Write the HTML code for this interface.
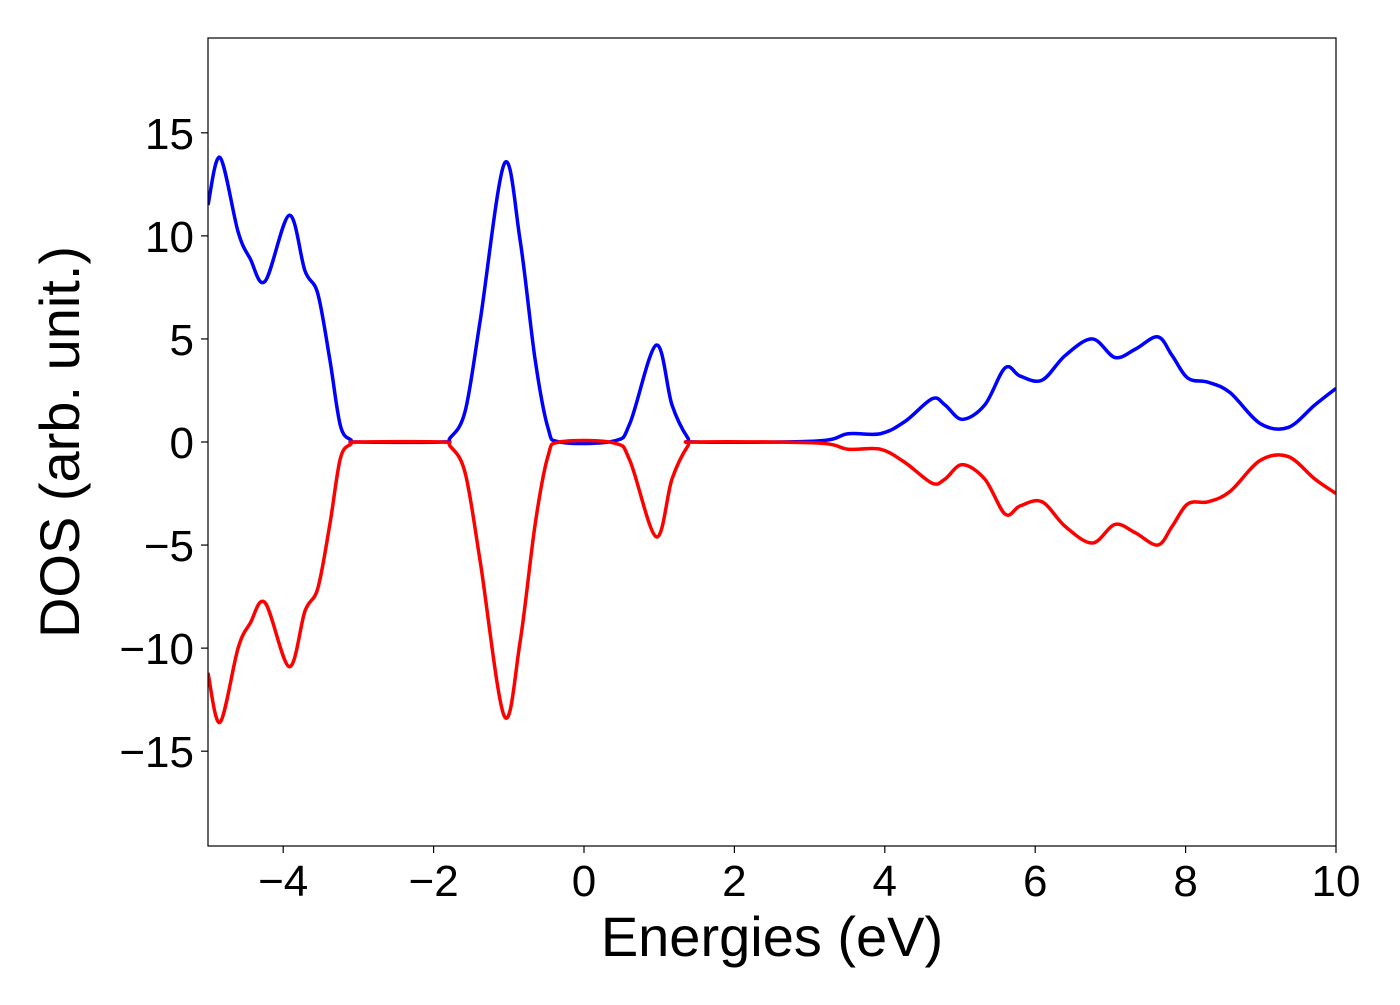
<!DOCTYPE html>
<html><head><meta charset="utf-8"><style>
body{margin:0;background:#fff}
svg text{font-family:"Liberation Sans","DejaVu Sans",sans-serif;fill:#000}
</style></head><body>
<svg id="chart" width="1400" height="1000" xmlns="http://www.w3.org/2000/svg">
<g id="plot"></g>
</svg>
<script>
const energies = [-5,-4.84,-4.6,-4.44,-4.24,-3.92,-3.71,-3.54,-3.38,-3.24,-3.1,-3.0,-1.9,-1.78,-1.58,-1.38,-1.06,-0.85,-0.65,-0.48,-0.32,0.4,0.61,0.96,1.17,1.38,1.5,3.1,3.51,3.94,4.27,4.63,4.8,5.03,5.33,5.6,5.8,6.09,6.4,6.76,7.06,7.33,7.63,7.82,8.03,8.3,8.59,8.99,9.36,9.72,10];
const dosUp = [11.5,13.8,10.2,8.9,7.8,11.0,8.3,7.2,4.0,0.8,0.1,0,0,0.2,1.5,5.9,13.5,9.8,4.0,0.7,0,0.05,0.9,4.7,1.8,0.2,0,0.05,0.4,0.4,1.0,2.1,1.8,1.1,1.8,3.6,3.2,3.0,4.2,5.0,4.1,4.5,5.1,4.2,3.1,2.9,2.4,0.9,0.7,1.8,2.6];
const dosDown = [-11.2,-13.6,-10.0,-8.8,-7.8,-10.9,-8.2,-7.1,-4.0,-0.8,-0.1,0,0,-0.2,-1.5,-5.8,-13.3,-9.7,-4.0,-0.7,0,-0.05,-0.9,-4.6,-1.8,-0.2,0,-0.05,-0.35,-0.35,-1.0,-2.0,-1.8,-1.1,-1.8,-3.5,-3.1,-2.9,-4.1,-4.9,-4.0,-4.4,-5.0,-4.1,-3.0,-2.9,-2.4,-0.9,-0.7,-1.8,-2.5];
const xTicks = [-4,-2,0,2,4,6,8,10];
const yTicks = [-15,-10,-5,0,5,10,15];
const L=208,R=1336,T=38,B=846,xMin=-5,xMax=10,yMin=-19.6,yMax=19.6;
const sx=v=>L+(v-xMin)/(xMax-xMin)*(R-L);
const sy=v=>B-(v-yMin)/(yMax-yMin)*(B-T);
const NS='http://www.w3.org/2000/svg';
const g=document.getElementById('plot');
function mk(t,a){const e=document.createElementNS(NS,t);for(const k in a)e.setAttribute(k,a[k]);g.appendChild(e);return e;}
function pathFor(ys){
  const p=energies.map((e,i)=>[sx(e),sy(ys[i])]);
  let d='M'+p[0][0]+','+p[0][1];
  for(let i=0;i<p.length-1;i++){
    const p0=p[i-1]||p[i],p1=p[i],p2=p[i+1],p3=p[i+2]||p2;
    const c1=[p1[0]+(p2[0]-p0[0])/6,p1[1]+(p2[1]-p0[1])/6];
    const c2=[p2[0]-(p3[0]-p1[0])/6,p2[1]-(p3[1]-p1[1])/6];
    d+=` C${c1[0]},${c1[1]} ${c2[0]},${c2[1]} ${p2[0]},${p2[1]}`;
  }
  return d;
}
const defs=mk('clipPath',{id:'clip'});
const cr=document.createElementNS(NS,'rect');cr.setAttribute('x',L);cr.setAttribute('y',T);cr.setAttribute('width',R-L);cr.setAttribute('height',B-T);defs.appendChild(cr);
const up=mk('path',{d:pathFor(dosUp),fill:'none',stroke:'#0000ff','stroke-width':3.5,'clip-path':'url(#clip)'});


const dn=mk('path',{d:pathFor(dosDown),fill:'none',stroke:'#ff0000','stroke-width':3.5,'clip-path':'url(#clip)'});


const fr=mk('rect',{x:L,y:T,width:R-L,height:B-T,fill:'none',stroke:'#000','stroke-width':1.2});


xTicks.forEach(v=>{
  mk('line',{x1:sx(v),x2:sx(v),y1:B,y2:B+7,stroke:'#000','stroke-width':1.2});
  const t=mk('text',{x:sx(v),y:B+50,'font-size':44,'text-anchor':'middle'});
  t.textContent=v<0?'\u2212'+(-v):String(v);
  
  
});
yTicks.forEach(v=>{
  mk('line',{x1:L-7,x2:L,y1:sy(v),y2:sy(v),stroke:'#000','stroke-width':1.2});
  const t=mk('text',{x:L-14,y:sy(v)+16,'font-size':44,'text-anchor':'end'});
  t.textContent=v<0?'\u2212'+(-v):String(v);
  
  
});
const xt=mk('text',{x:(L+R)/2,y:956,'font-size':56,'text-anchor':'middle'});
xt.textContent='Energies (eV)';


const yt=mk('text',{x:0,y:0,'font-size':56,'text-anchor':'middle',transform:`translate(79,${(T+B)/2}) rotate(-90)`});
yt.textContent='DOS (arb. unit.)';


</script>
</body></html>
